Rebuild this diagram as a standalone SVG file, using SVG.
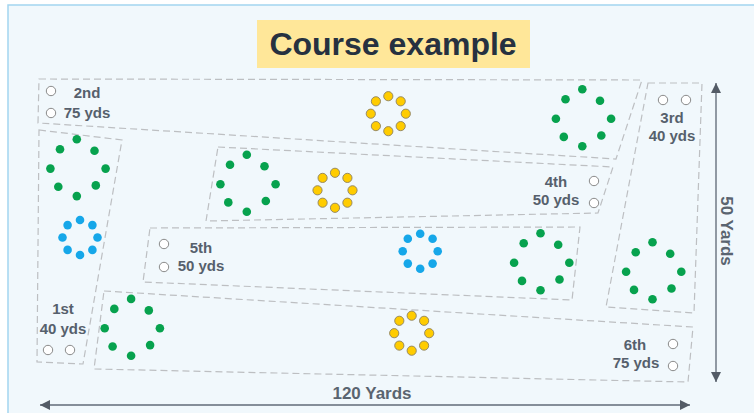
<svg xmlns="http://www.w3.org/2000/svg" xmlns:xlink="http://www.w3.org/1999/xlink" width="754" height="413" viewBox="0 0 754 413">
<style>
.area{fill:none;stroke:#bdbfc2;stroke-width:1.2;stroke-dasharray:7 4}
.lbl{font-family:"Liberation Sans",Arial,sans-serif;font-size:15px;font-weight:bold;fill:#56606c;text-anchor:middle}
.tee{fill:#ffffff;stroke:#7d7d7d;stroke-width:0.9}
.g{fill:#07a24e}
.b{fill:#16a7e9}
.y{fill:#ffcc00;stroke:#8d8160;stroke-width:0.9}
.dim{font-family:"Liberation Sans",Arial,sans-serif;font-size:17px;font-weight:bold;fill:#5a6470;text-anchor:middle}
.axis{stroke:#858e99;stroke-width:1.8;fill:none}
</style>
<defs>
<marker id="ah" viewBox="0 0 10 10" refX="10" refY="5" markerWidth="10" markerHeight="10" markerUnits="userSpaceOnUse" orient="auto-start-reverse">
<path d="M0,0 L10,5 L0,10 z" fill="#535b66"/>
</marker>
<g id="gc" class="g">
<circle cx="-1.2" cy="-28.5" r="4.3"/><circle cx="-18" cy="-18.5" r="4.3"/><circle cx="16.5" cy="-17" r="4.3"/>
<circle cx="-27.6" cy="0.9" r="4.3"/><circle cx="27.6" cy="0.9" r="4.3"/>
<circle cx="-19.7" cy="19.1" r="4.3"/><circle cx="17.8" cy="17.7" r="4.3"/><circle cx="-1.2" cy="28.4" r="4.3"/>
</g>
<g id="bc" class="b">
<circle cx="0" cy="-17.5" r="4.3"/><circle cx="12.4" cy="-12.4" r="4.3"/><circle cx="17.5" cy="0" r="4.3"/><circle cx="12.4" cy="12.4" r="4.3"/>
<circle cx="0" cy="17.5" r="4.3"/><circle cx="-12.4" cy="12.4" r="4.3"/><circle cx="-17.5" cy="0" r="4.3"/><circle cx="-12.4" cy="-12.4" r="4.3"/>
</g>
<g id="yc" class="y">
<circle cx="0" cy="-17.5" r="4.6"/><circle cx="12.4" cy="-12.4" r="4.6"/><circle cx="17.5" cy="0" r="4.6"/><circle cx="12.4" cy="12.4" r="4.6"/>
<circle cx="0" cy="17.5" r="4.6"/><circle cx="-12.4" cy="12.4" r="4.6"/><circle cx="-17.5" cy="0" r="4.6"/><circle cx="-12.4" cy="-12.4" r="4.6"/>
</g>
</defs>

<rect x="0" y="0" width="754" height="413" fill="#ffffff"/>
<rect x="8" y="5" width="800" height="500" fill="#f1f8fc" stroke="#a3d5ef" stroke-width="1.5"/>

<g id="title">
<rect x="257" y="20" width="273" height="48" fill="#ffe799"/>
<text x="393" y="55" font-family="'Liberation Sans',Arial,sans-serif" font-size="32" font-weight="bold" fill="#263140" text-anchor="middle">Course example</text>
</g>

<g id="hole2">
<polygon class="area" points="39,79 642,80 616,159 38,123"/>
<circle class="tee" cx="51" cy="91" r="4.7"/>
<circle class="tee" cx="51" cy="113" r="4.7"/>
<text class="lbl" x="87" y="98">2nd</text>
<text class="lbl" x="87" y="118">75 yds</text>
<use href="#yc" x="388.3" y="113.7"/>
<use href="#gc" x="583.5" y="117.8"/>
</g>

<g id="hole1">
<polygon class="area" points="39,130 122,140 83,364 37,362"/>
<use href="#gc" x="78" y="167.7"/>
<use href="#bc" x="80" y="237.5"/>
<text class="lbl" x="63" y="314">1st</text>
<text class="lbl" x="63" y="334">40 yds</text>
<circle class="tee" cx="48" cy="350" r="4.7"/>
<circle class="tee" cx="70" cy="350" r="4.7"/>
</g>

<g id="hole3">
<polygon class="area" points="648,83 702,83 694,313 606,307"/>
<circle class="tee" cx="663" cy="100" r="4.7"/>
<circle class="tee" cx="686" cy="100" r="4.7"/>
<text class="lbl" x="672" y="123">3rd</text>
<text class="lbl" x="672" y="141">40 yds</text>
<use href="#gc" x="653.7" y="270.8"/>
</g>

<g id="hole4">
<polygon class="area" points="218,147 613,167 598,213 206,221"/>
<use href="#gc" x="248" y="183.3"/>
<use href="#yc" x="335" y="190.3"/>
<text class="lbl" x="556" y="187">4th</text>
<text class="lbl" x="556" y="205">50 yds</text>
<circle class="tee" cx="594" cy="181" r="4.7"/>
<circle class="tee" cx="594" cy="203" r="4.7"/>
</g>

<g id="hole5">
<polygon class="area" points="150,228 580,227 572,300 143,282"/>
<circle class="tee" cx="164" cy="244" r="4.7"/>
<circle class="tee" cx="164" cy="267" r="4.7"/>
<text class="lbl" x="201" y="253">5th</text>
<text class="lbl" x="201" y="271">50 yds</text>
<use href="#bc" x="420.2" y="251.2"/>
<use href="#gc" x="541.7" y="261.8"/>
</g>

<g id="hole6">
<polygon class="area" points="104,291 693,327 688,382 94,369"/>
<use href="#gc" x="132.3" y="327.4"/>
<use href="#yc" x="411.7" y="333.2"/>
<text class="lbl" x="635" y="350">6th</text>
<text class="lbl" x="636" y="368">75 yds</text>
<circle class="tee" cx="673" cy="344" r="4.7"/>
<circle class="tee" cx="673" cy="366" r="4.7"/>
</g>

<g id="connectors">
<line class="axis" x1="40" y1="405" x2="690" y2="405" marker-start="url(#ah)" marker-end="url(#ah)"/>
<line class="axis" x1="716" y1="83" x2="716" y2="382" marker-start="url(#ah)" marker-end="url(#ah)"/>
</g>

<g id="dimensions">
<text class="dim" x="372" y="399">120 Yards</text>
<text class="dim" transform="translate(721,231) rotate(90)" x="0" y="0">50 Yards</text>
</g>
</svg>
